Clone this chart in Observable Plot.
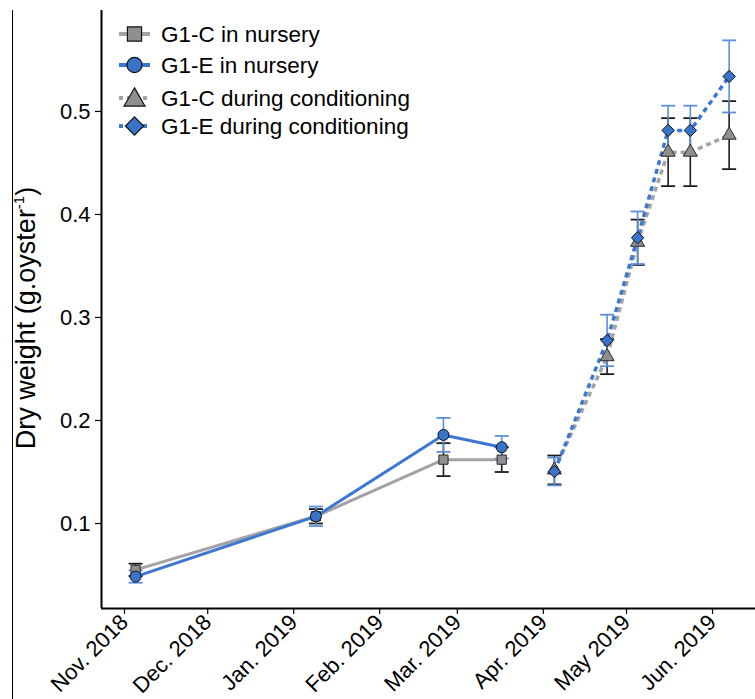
<!DOCTYPE html>
<html>
<head>
<meta charset="utf-8">
<script src="https://cdn.jsdelivr.net/npm/d3@7"></script>
<script src="https://cdn.jsdelivr.net/npm/@observablehq/plot@0.6"></script>
<style>
  html, body { margin: 0; padding: 0; background: #fff; }
  #wrap { position: relative; width: 755px; height: 699px; overflow: hidden; }
  #border { position: absolute; left: 12px; top: 10px; width: 1px; height: 689px; background: #000; }
  svg { position: absolute; left: 0; top: 0; }
</style>
</head>
<body>
<div id="wrap"><div id="border"></div></div>
<script>
// ---- data ----
const nurseryDates = ["2018-11-05", "2019-01-09", "2019-02-24", "2019-03-17"];
const cNursery    = [0.055, 0.107, 0.162, 0.162];
const cNurseryErr = [0.006, 0.007, 0.016, 0.012];
const eNursery    = [0.0485, 0.107, 0.186, 0.174];
const eNurseryErr = [0.006, 0.0095, 0.0165, 0.011];

const condDates = ["2019-04-05", "2019-04-24", "2019-05-05", "2019-05-16", "2019-05-24", "2019-06-07"];
const cCond    = [0.152, 0.262, 0.373, 0.4605, 0.4605, 0.477];
const cCondErr = [0.014, 0.017, 0.022, 0.033, 0.033, 0.033];
const eCond    = [0.1505, 0.2777, 0.3774, 0.4816, 0.4816, 0.534];
const eCondErr = [0.0135, 0.025, 0.0255, 0.024, 0.024, 0.035];

const seriesNames = ["G1-C in nursery", "G1-E in nursery", "G1-C during conditioning", "G1-E during conditioning"];
const tickDates = ["2018-11-01", "2018-12-01", "2019-01-01", "2019-02-01", "2019-03-01", "2019-04-01", "2019-05-01", "2019-06-01"];
const tickLabels = ["Nov. 2018", "Dec. 2018", "Jan. 2019", "Feb. 2019", "Mar. 2019", "Apr. 2019", "May 2019", "Jun. 2019"];
const yTicks = [0.1, 0.2, 0.3, 0.4, 0.5];

// ---- build tables ----
const mk = (dates, vals, errs) => dates.map((d, i) => ({date: new Date(d), v: vals[i], lo: vals[i] - errs[i], hi: vals[i] + errs[i]}));
const cN = mk(nurseryDates, cNursery, cNurseryErr);
const eN = mk(nurseryDates, eNursery, eNurseryErr);
const cC = mk(condDates, cCond, cCondErr);
const eC = mk(condDates, eCond, eCondErr);
const tickD = tickDates.map(d => new Date(d));

const GRAY_LINE = "#a3a3a3", BLUE_LINE = "#3b77d3";
const GRAY_FILL = "#8f8f8f", BLUE_FILL = "#3a74c9";
const BLUE_ERR = "#5b8fdb", BLACK_ERR = "#1c1c1c";

const cap = {draw(ctx) { ctx.moveTo(-7, 0); ctx.lineTo(7, 0); }};
const errMarks = (data, color) => [
  Plot.ruleX(data, {x: "date", y1: "lo", y2: "hi", stroke: color, strokeWidth: 1.6}),
  Plot.dot(data, {x: "date", y: "lo", symbol: cap, r: 1, stroke: color, strokeWidth: 1.8, fill: "none"}),
  Plot.dot(data, {x: "date", y: "hi", symbol: cap, r: 1, stroke: color, strokeWidth: 1.8, fill: "none"})
];

const xDomain = [new Date(Date.UTC(2018, 9, 23, 17)), new Date(Date.UTC(2019, 5, 16, 12))];
const yDomain = [0.0175, 0.598];

const chart = Plot.plot({
  width: 755,
  height: 699,
  marginLeft: 101,
  marginRight: 0,
  marginTop: 10,
  marginBottom: 91,
  style: {fontFamily: "'Liberation Sans', Arial, sans-serif", fontSize: "22px", color: "#000", background: "transparent"},
  x: {type: "utc", domain: xDomain},
  y: {domain: yDomain},
  marks: [
    Plot.axisY({ticks: yTicks, tickFormat: d => d.toFixed(1), tickSize: 6, tickPadding: 5, label: null, strokeWidth: 1.2}),
    Plot.axisX({ticks: tickD, tickFormat: (d) => tickLabels[tickD.findIndex(t => +t === +d)], tickSize: 6, tickPadding: 4, tickRotate: -45, label: null, strokeWidth: 1.2}),
    ...errMarks(cN, BLACK_ERR),
    ...errMarks(cC, BLACK_ERR),
    Plot.line(cN, {x: "date", y: "v", stroke: GRAY_LINE, strokeWidth: 3}),
    Plot.line(cC, {x: "date", y: "v", stroke: GRAY_LINE, strokeWidth: 3.5, strokeDasharray: "5,4", strokeLinecap: "butt"}),
    ...errMarks(eN, BLUE_ERR),
    ...errMarks(eC, BLUE_ERR),
    Plot.line(eN, {x: "date", y: "v", stroke: BLUE_LINE, strokeWidth: 3}),
    Plot.line(eC, {x: "date", y: "v", stroke: BLUE_LINE, strokeWidth: 3.5, strokeDasharray: "5,4", strokeLinecap: "butt"}),
    Plot.dot(cN, {x: "date", y: "v", symbol: "square", r: 5.2, fill: GRAY_FILL, stroke: "#2a2a2a", strokeWidth: 1}),
    Plot.dot(cC, {x: "date", y: "v", symbol: "triangle", r: 5.2, fill: GRAY_FILL, stroke: "#2a2a2a", strokeWidth: 1}),
    Plot.dot(eN, {x: "date", y: "v", symbol: "circle", r: 5.5, fill: BLUE_FILL, stroke: "#111", strokeWidth: 1}),
    Plot.dot(eC, {x: "date", y: "v", symbol: "diamond2", r: 5.6, fill: BLUE_FILL, stroke: "#111", strokeWidth: 1}),
    Plot.ruleX([xDomain[0]], {stroke: "#000", strokeWidth: 2}),
    Plot.ruleY([yDomain[0]], {stroke: "#000", strokeWidth: 2})
  ]
});

document.getElementById("wrap").appendChild(chart);

// ---- y-axis title with superscript ----
const svg = d3.select(chart);
const yl = svg.append("text")
  .attr("transform", "translate(35,318) rotate(-90)")
  .attr("text-anchor", "middle")
  .attr("font-size", 27)
  .attr("fill", "#000");
yl.append("tspan").text("Dry weight (g.oyster");
yl.append("tspan").attr("font-size", 15).attr("dy", -11).text("-1");
yl.append("tspan").attr("dy", 11).text(")");

// ---- legend ----
const legendY = [34, 65, 98, 126];
const legendSpec = [
  {line: GRAY_LINE, dash: null, sym: d3.symbolSquare, size: 200, fill: GRAY_FILL},
  {line: BLUE_LINE, dash: null, sym: d3.symbolCircle, size: 180, fill: BLUE_FILL},
  {line: GRAY_LINE, dash: "4,4", sym: d3.symbolTriangle, size: 190, fill: GRAY_FILL},
  {line: BLUE_LINE, dash: "4,4", sym: d3.symbolDiamond2, size: 210, fill: BLUE_FILL}
];
const lg = svg.append("g").attr("text-anchor", "start");
seriesNames.forEach((name, i) => {
  const s = legendSpec[i], y = legendY[i];
  lg.append("line").attr("x1", 119).attr("x2", 150).attr("y1", y).attr("y2", y)
    .attr("stroke", s.line).attr("stroke-width", 4).attr("stroke-dasharray", s.dash);
  lg.append("path").attr("d", d3.symbol(s.sym, s.size)()).attr("transform", `translate(134.5,${y + (i === 2 ? 2 : 0)})`)
    .attr("fill", s.fill).attr("stroke", "#111").attr("stroke-width", 1.2);
  lg.append("text").attr("x", 161).attr("y", y).attr("dy", "0.36em").attr("text-anchor", "start")
    .attr("font-size", 22.5).attr("fill", "#000").text(name);
});
</script>
</body>
</html>
